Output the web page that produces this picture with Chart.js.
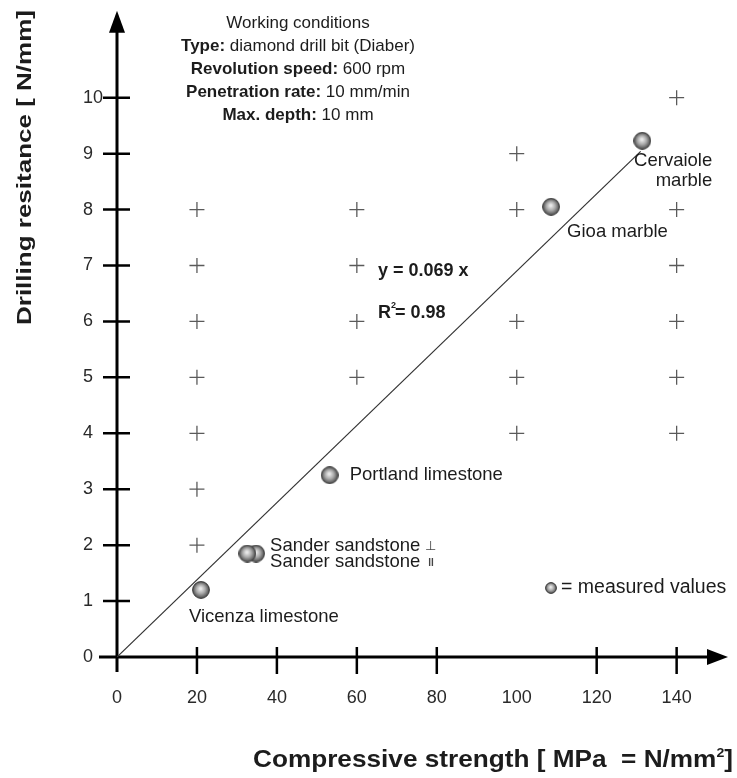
<!DOCTYPE html>
<html>
<head>
<meta charset="utf-8">
<style>
  html, body { margin: 0; padding: 0; background: #fff; }
  #wrap { width: 737px; height: 778px; }
</style>
<script src="https://cdn.jsdelivr.net/npm/chart.js@4/dist/chart.umd.min.js"></script>
</head>
<body>
<div id="wrap"><canvas id="chart"></canvas></div>
<script>
// measured values (drawn back to front, so the ⊥ point sits over the ∥ point)
const rockNames = ['Vicenza limestone', 'Sander sandstone ∥', 'Sander sandstone ⊥', 'Portland limestone', 'Gioa marble', 'Cervaiole marble'];
const strength = [21, 34.8, 32.6, 53.2, 108.6, 131.4];
const resistance = [1.2, 1.85, 1.85, 3.25, 8.05, 9.23];

// regression line y = 0.069 x
const trendX = [0, 131];
const trendY = [0, 9.04];

// "+" markers on the background
const crossX = [20, 20, 20, 20, 20, 20, 20, 60, 60, 60, 60, 100, 100, 100, 100, 100, 140, 140, 140, 140, 140, 140];
const crossY = [2, 3, 4, 5, 6, 7, 8, 5, 6, 7, 8, 4, 5, 6, 8, 9, 4, 5, 6, 7, 8, 10];

// axis ticks
const xTicks = [0, 20, 40, 60, 80, 100, 120, 140];
const xTickMarks = [0, 20, 40, 60, 80, 120, 140]; // no mark at 100 in the original
const yTicks = [0, 1, 2, 3, 4, 5, 6, 7, 8, 9, 10];

const FONT = "'Liberation Sans', Arial, sans-serif";
const INK = '#1c1c1c';

// shaded ball used as point style
function makeBall(d) {
    const c = document.createElement('canvas');
    c.width = d; c.height = d;
    const g = c.getContext('2d');
    const r = d / 2;
    const grad = g.createRadialGradient(r * 0.95, r * 0.85, r * 0.1, r, r, r);
    grad.addColorStop(0, '#e8e8e8');
    grad.addColorStop(0.45, '#a8a8a8');
    grad.addColorStop(0.85, '#5a5a5a');
    grad.addColorStop(1, '#3a3a3a');
    g.beginPath();
    g.arc(r, r, r - 0.6, 0, Math.PI * 2);
    g.fillStyle = grad;
    g.fill();
    g.lineWidth = 1;
    g.strokeStyle = '#3c3c3c';
    g.stroke();
    return c;
}
const bigBall = makeBall(18);
const smallBall = makeBall(12);

function toPoints(xs, ys) {
    return xs.map((x, i) => ({ x: x, y: ys[i] }));
}

// draw a line of mixed bold / regular pieces, centred on cx
function drawMixed(ctx, parts, cx, y, size) {
    let total = 0;
    parts.forEach(p => {
        ctx.font = (p[1] ? 'bold ' : '') + size + 'px ' + FONT;
        total += ctx.measureText(p[0]).width;
    });
    let x = cx - total / 2;
    parts.forEach(p => {
        ctx.font = (p[1] ? 'bold ' : '') + size + 'px ' + FONT;
        ctx.fillText(p[0], x, y);
        x += ctx.measureText(p[0]).width;
    });
}

const axesPlugin = {
    id: 'axesPlugin',
    beforeDatasetsDraw(chart) {
        const ctx = chart.ctx;
        const xs = chart.scales.x, ys = chart.scales.y;
        const x0 = xs.getPixelForValue(0), y0 = ys.getPixelForValue(0);
        const area = chart.chartArea;
        ctx.save();
        ctx.strokeStyle = '#000';
        ctx.fillStyle = '#000';
        ctx.lineWidth = 3;
        // axis lines
        ctx.beginPath();
        ctx.moveTo(x0, y0 + 15);
        ctx.lineTo(x0, area.top + 16);
        ctx.moveTo(x0 - 18, y0);
        ctx.lineTo(area.right - 16, y0);
        ctx.stroke();
        // arrow heads
        ctx.beginPath();
        ctx.moveTo(x0, area.top - 3);
        ctx.lineTo(x0 - 8, area.top + 19);
        ctx.lineTo(x0 + 8, area.top + 19);
        ctx.closePath();
        ctx.fill();
        ctx.beginPath();
        ctx.moveTo(area.right + 1, y0);
        ctx.lineTo(area.right - 20, y0 - 8);
        ctx.lineTo(area.right - 20, y0 + 8);
        ctx.closePath();
        ctx.fill();
        // tick marks
        ctx.lineWidth = 2.5;
        ctx.beginPath();
        yTicks.forEach(v => {
            if (v === 0) return;
            const p = ys.getPixelForValue(v);
            ctx.moveTo(x0 - 14, p);
            ctx.lineTo(x0 + 13, p);
        });
        xTickMarks.forEach(v => {
            if (v === 0) return;
            const p = xs.getPixelForValue(v);
            ctx.moveTo(p, y0 - 10);
            ctx.lineTo(p, y0 + 17);
        });
        ctx.stroke();
        ctx.restore();
    },
    afterDraw(chart) {
        const ctx = chart.ctx;
        const xs = chart.scales.x, ys = chart.scales.y;
        const px = v => xs.getPixelForValue(v);
        const py = v => ys.getPixelForValue(v);
        ctx.save();
        ctx.fillStyle = INK;
        ctx.textBaseline = 'middle';

        // working conditions box
        ctx.textAlign = 'left';
        drawMixed(ctx, [['Working conditions', false]], 298, 23, 17);
        drawMixed(ctx, [['Type:', true], [' diamond drill bit (Diaber)', false]], 298, 46, 17);
        drawMixed(ctx, [['Revolution speed:', true], [' 600 rpm', false]], 298, 69, 17);
        drawMixed(ctx, [['Penetration rate:', true], [' 10 mm/min', false]], 298, 92, 17);
        drawMixed(ctx, [['Max. depth:', true], [' 10 mm', false]], 298, 115, 17);

        // regression text
        ctx.font = 'bold 18px ' + FONT;
        ctx.fillText('y = 0.069 x', 378, 271);
        ctx.fillText('R', 378, 313);
        let w = ctx.measureText('R').width;
        ctx.font = 'bold 9px ' + FONT;
        ctx.fillText('2', 378 + w, 306);
        ctx.font = 'bold 18px ' + FONT;
        ctx.fillText('= 0.98', 378 + w + 4, 313);

        // point labels
        ctx.font = '18.5px ' + FONT;
        ctx.fillText('Vicenza limestone', px(strength[0]) - 12, py(resistance[0]) + 27);
        ctx.fillText('Sander sandstone', px(strength[1]) + 14, py(resistance[1]) - 8);
        ctx.fillText('Sander sandstone', px(strength[1]) + 14, py(resistance[1]) + 8);
        ctx.fillText('Portland limestone', px(strength[3]) + 20, py(resistance[3]));
        ctx.fillText('Gioa marble', px(strength[4]) + 16, py(resistance[4]) + 25);
        ctx.textAlign = 'right';
        ctx.fillText('Cervaiole', px(strength[5]) + 70, py(resistance[5]) + 20);
        ctx.fillText('marble', px(strength[5]) + 70, py(resistance[5]) + 40);
        ctx.textAlign = 'left';
        const sw = ctx.measureText('Sander sandstone').width;
        ctx.font = '13px ' + FONT;
        ctx.fillStyle = '#444';
        ctx.fillText('⊥', px(strength[1]) + 14 + sw + 5, py(resistance[1]) - 7);
        ctx.font = 'bold 10px ' + FONT;
        ctx.fillText('ll', px(strength[1]) + 14 + sw + 8, py(resistance[1]) + 10);

        // legend
        ctx.drawImage(smallBall, 545, 582);
        ctx.fillStyle = INK;
        ctx.font = '19.5px ' + FONT;
        ctx.fillText('= measured values', 561, 588);

        // x axis title, stretched slightly like the original
        const t1 = 'Compressive strength [ MPa  = N/mm';
        ctx.font = 'bold 24px ' + FONT;
        const w1 = ctx.measureText(t1).width;
        const brW = ctx.measureText(']').width;
        ctx.font = 'bold 13px ' + FONT;
        const supW = ctx.measureText('2').width;
        const total = w1 + supW + brW;
        const sx = 480 / total;
        ctx.save();
        ctx.translate(733 - 480, 0);
        ctx.scale(sx, 1);
        ctx.textBaseline = 'alphabetic';
        ctx.textAlign = 'left';
        ctx.font = 'bold 24px ' + FONT;
        ctx.fillText(t1, 0, 767);
        ctx.font = 'bold 13px ' + FONT;
        ctx.fillText('2', w1, 757);
        ctx.font = 'bold 24px ' + FONT;
        ctx.fillText(']', w1 + supW, 767);
        ctx.restore();

        // y axis title
        const t2 = 'Drilling resitance [ N/mm]';
        ctx.font = 'bold 21px ' + FONT;
        const w2 = ctx.measureText(t2).width;
        ctx.translate(25, 10);
        ctx.rotate(-Math.PI / 2);
        ctx.scale(315 / w2, 1);
        ctx.textAlign = 'right';
        ctx.fillText(t2, 0, 0);
        ctx.restore();
    }
};

new Chart(document.getElementById('chart'), {
    type: 'scatter',
    data: {
        datasets: [
            {
                label: 'measured values',
                data: toPoints(strength, resistance),
                pointStyle: bigBall,
                pointRadius: 9,
                pointHoverRadius: 9
            },
            {
                type: 'line',
                label: 'y = 0.069 x',
                data: toPoints(trendX, trendY),
                borderColor: '#333',
                borderWidth: 1.2,
                pointRadius: 0,
                fill: false
            },
            {
                label: 'grid',
                data: toPoints(crossX, crossY),
                pointStyle: 'cross',
                pointRadius: 7.5,
                borderColor: '#5a5a5a',
                borderWidth: 1.3,
                backgroundColor: '#5a5a5a'
            }
        ]
    },
    options: {
        responsive: true,
        maintainAspectRatio: false,
        animation: false,
        events: [],
        layout: { padding: { left: 83, right: 2, top: 13, bottom: 0 } },
        plugins: {
            legend: { display: false },
            tooltip: { enabled: false }
        },
        scales: {
            x: {
                type: 'linear',
                min: 0,
                max: 152.6,
                grid: { display: false, drawTicks: false },
                border: { display: false },
                afterBuildTicks: s => { s.ticks = xTicks.map(v => ({ value: v })); },
                afterFit: s => { s.height = 121; },
                ticks: {
                    padding: 30,
                    maxRotation: 0,
                    color: '#2a2a2a',
                    font: { family: FONT, size: 18 }
                }
            },
            y: {
                type: 'linear',
                min: 0,
                max: 11.5,
                grid: { display: false, drawTicks: false },
                border: { display: false },
                afterBuildTicks: s => { s.ticks = yTicks.map(v => ({ value: v })); },
                afterFit: s => { s.width = 34; },
                ticks: {
                    crossAlign: 'far',
                    color: '#2a2a2a',
                    font: { family: FONT, size: 18 }
                }
            }
        }
    },
    plugins: [axesPlugin]
});
</script>
</body>
</html>
